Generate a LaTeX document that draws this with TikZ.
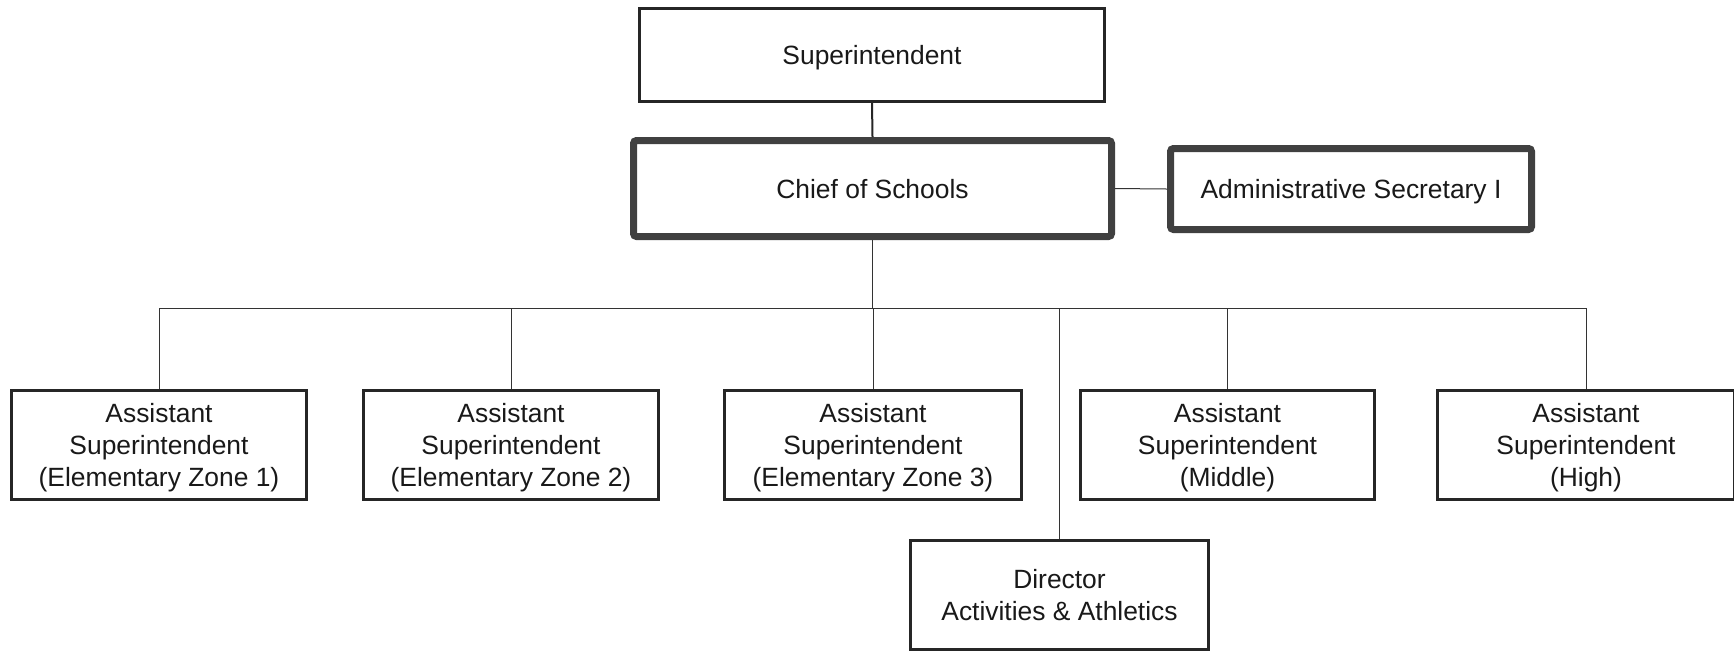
\documentclass[tikz,border=0pt]{standalone}
\usepackage{fontspec}
\setmainfont{Liberation Sans}
\begin{document}
\begin{tikzpicture}[x=0.5pt,y=-0.5pt,
  txt/.style={align=center, font=\fontsize{13.2}{16}\selectfont, text=black!90, inner sep=0pt, text depth=0pt},
  box/.style={txt, draw=black!85, line width=1.3pt, fill=white},
  heavybox/.style={txt, draw=black!75, line width=3.5pt, rounded corners=1.5pt, fill=white},
  link/.style={draw=black!80, line width=0.5pt},
  boldlink/.style={draw=black!85, line width=1pt}]
\useasboundingbox (0,0) rectangle (1734,650);
\fill[white] (0,0) rectangle (1734,650);
\node[box, minimum width=232.7pt, minimum height=46.7pt] (sup) at (872,55) {Superintendent};
\node[heavybox, minimum width=239pt, minimum height=48pt] (chief) at (872.5,188.5) {Chief of Schools};
\node[heavybox, minimum width=180.5pt, minimum height=40.5pt] (adm) at (1351,189) {Administrative Secretary I};
\node[box, minimum width=147.7pt, minimum height=54.7pt] (b1) at (159,445) {Assistant\\Superintendent\\(Elementary Zone 1)};
\node[box, minimum width=147.7pt, minimum height=54.7pt] (b2) at (511,445) {Assistant\\Superintendent\\(Elementary Zone 2)};
\node[box, minimum width=148.7pt, minimum height=54.7pt] (b3) at (873,445) {Assistant\\Superintendent\\(Elementary Zone 3)};
\node[box, minimum width=147.2pt, minimum height=54.7pt] (b4) at (1227.5,445) {Assistant\\Superintendent\\(Middle)};
\node[box, minimum width=148.7pt, minimum height=54.7pt] (b5) at (1586,445) {Assistant\\Superintendent\\(High)};
\node[box, minimum width=149.2pt, minimum height=54.7pt] (dir) at (1059.5,595) {Director\\Activities \& Athletics};
\coordinate (bus) at (872,308);
\draw[boldlink] (sup.south) -- (chief.north);
\draw[link] (chief.east) -- (adm.west);
\draw[link] (chief.south) -- (chief.south |- bus);
\draw[link] (b1.north |- bus) -- (b5.north |- bus);
\foreach \n in {b1,b2,b3,b4,b5,dir}{
  \draw[link] (\n.north) -- (\n.north |- bus);
}
\end{tikzpicture}
\end{document}
